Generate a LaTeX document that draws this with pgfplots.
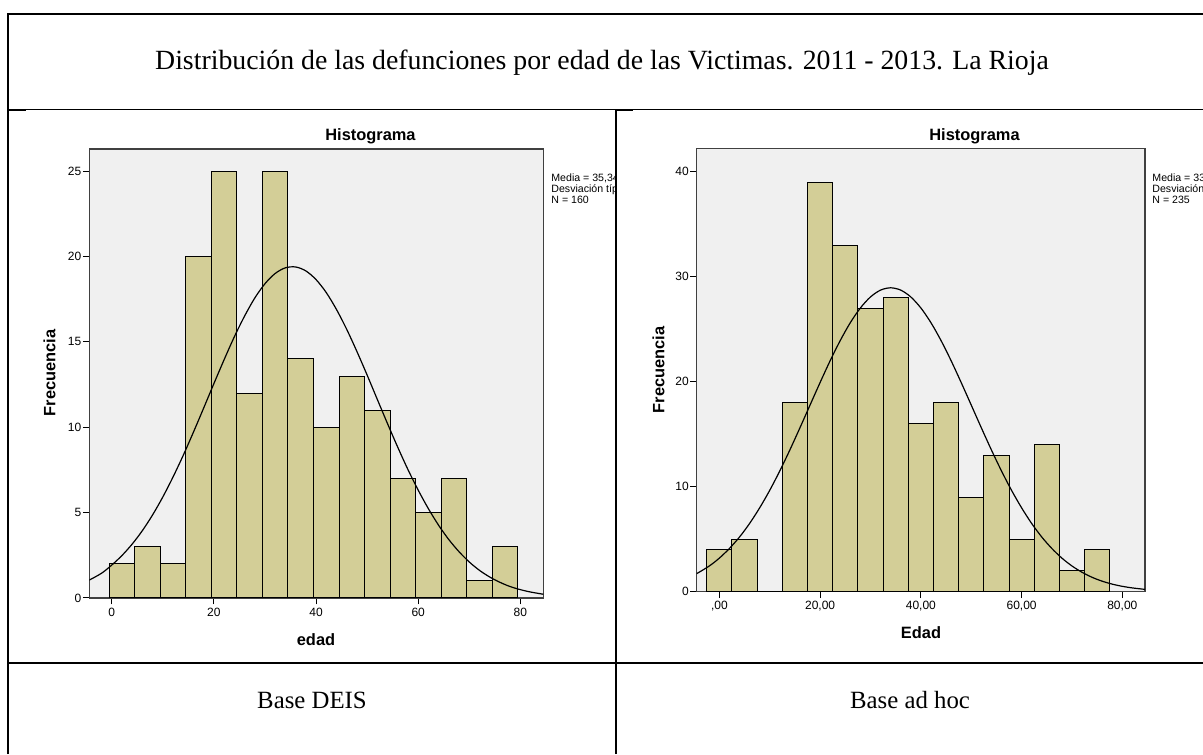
\documentclass[border=0pt]{standalone}
\usepackage{fontspec}
\setmainfont{Liberation Serif}
\setsansfont{Liberation Sans}
\usepackage{pgfplots}
\pgfplotsset{compat=1.18}

\definecolor{barfill}{HTML}{D3CE97}
\definecolor{plotbg}{HTML}{F0F0F0}

% SPSS-like histogram look
\pgfplotsset{
  spss/.style={
    scale only axis,
    axis background/.style={fill=plotbg},
    axis line style={draw=black!75, line width=0.6pt},
    tick align=outside,
    tick pos=left,
    major tick length=3.2pt,
    tick style={black, line width=0.5pt},
    /pgf/number format/assume math mode=true,
    ticklabel style={font=\sffamily\fontsize{6}{7}\selectfont},
    yticklabel style={inner sep=0.6pt},
    xticklabel style={inner sep=1.5pt},
    clip=true,
  },
  hbars/.style={ybar interval, fill=barfill, draw=black, line width=0.5pt},
  normcurve/.style={black, line width=0.6pt, smooth},
}

\newcommand{\lbl}{\sffamily\bfseries\fontsize{8.2}{9.5}\selectfont}
\newcommand{\info}{\sffamily\fontsize{5.3}{5.5}\selectfont}

\begin{document}
\begin{tikzpicture}[x=0.5pt, y=0.5pt]
\path[use as bounding box] (0,0) rectangle (1203,754);

% ---------------- left histogram: Base DEIS ----------------
\begin{axis}[spss,
  at={(44.65pt,78pt)}, anchor=south west,
  width=227pt, height=224.5pt,
  xmin=-4.4, xmax=84.5, ymin=0, ymax=26.3,
  xtick={0,20,40,60,80}, ytick={0,5,10,15,20,25},
]
\addplot[hbars] coordinates {
  (-0.5,2) (4.5,3) (9.5,2) (14.5,20) (19.5,25) (24.5,12) (29.5,25)
  (34.5,14) (39.5,10) (44.5,13) (49.5,11) (54.5,7) (59.5,5) (64.5,7)
  (69.5,1) (74.5,3) (79.5,3)};
% fitted normal curve (mean 35.3, sd 16.4, n = 160)
\addplot[normcurve] coordinates {
  (-4.4,1.05) (-2,1.45) (0,1.93) (2,2.49) (4,3.16) (6,3.95) (8,4.87)
  (10,5.92) (12,7.09) (14,8.36) (16,9.72) (18,11.13) (20,12.56)
  (22,13.96) (24,15.30) (26,16.51) (28,17.57) (30,18.41) (32,19.01)
  (34,19.34) (36,19.39) (38,19.16) (40,18.65) (42,17.89) (44,16.90)
  (46,15.74) (48,14.44) (50,13.06) (52,11.63) (54,10.21) (56,8.83)
  (58,7.52) (60,6.32) (62,5.23) (64,4.26) (66,3.42) (68,2.71)
  (70,2.11) (72,1.62) (74,1.23) (76,0.92) (78,0.67) (80,0.49)
  (82,0.35) (84.5,0.22)};
\end{axis}

% ---------------- right histogram: Base ad hoc ----------------
\begin{axis}[spss,
  at={(348.35pt,81.15pt)}, anchor=south west,
  width=224.15pt, height=221.5pt,
  xmin=-4.5, xmax=84.5, ymin=0, ymax=42.2,
  xtick={0,20,40,60,80},
  xticklabels={{,00},{20,00},{40,00},{60,00},{80,00}},
  ytick={0,10,20,30,40},
]
\addplot[hbars] coordinates {
  (-2.5,4) (2.5,5) (7.5,0) (12.5,18) (17.5,39) (22.5,33) (27.5,27)
  (32.5,28) (37.5,16) (42.5,18) (47.5,9) (52.5,13) (57.5,5) (62.5,14)
  (67.5,2) (72.5,4) (77.5,4)};
% fitted normal curve (mean 34.0, sd 16.2, n = 235)
\addplot[normcurve] coordinates {
  (-4.5,1.72) (-2,2.45) (0,3.20) (2,4.12) (4,5.21) (6,6.50) (8,7.99)
  (10,9.66) (12,11.51) (14,13.51) (16,15.62) (18,17.78) (20,19.93)
  (22,22.01) (24,23.93) (26,25.63) (28,27.03) (30,28.08) (32,28.73)
  (34,28.95) (36,28.73) (38,28.08) (40,27.03) (42,25.63) (44,23.93)
  (46,22.01) (48,19.93) (50,17.78) (52,15.62) (54,13.51) (56,11.51)
  (58,9.66) (60,7.99) (62,6.50) (64,5.21) (66,4.12) (68,3.20)
  (70,2.45) (72,1.85) (74,1.37) (76,1.00) (78,0.72) (80,0.51)
  (82,0.36) (84.5,0.22)};
\end{axis}

% chart titles and axis labels
\node[anchor=base, inner sep=0pt] at (370.5,613.3) {\lbl Histograma};
\node[anchor=base, inner sep=0pt] at (974.5,613.3) {\lbl Histograma};
\node[rotate=90, inner sep=0pt] at (49.5,381) {\lbl Frecuencia};
\node[rotate=90, inner sep=0pt] at (658.5,384) {\lbl Frecuencia};
\node[inner sep=0pt] at (316,114.5) {\lbl edad};
\node[inner sep=0pt] at (921,121.5) {\lbl Edad};

% summary boxes, cut by the cell border
\begin{scope}
  \clip (540,500) rectangle (614,600);
  \node[anchor=north west, inner sep=0pt, align=left, font=\info] at (551,580.7)
    {Media = 35,34\\ Desviación típica = 16,446\\ N = 160};
\end{scope}
\begin{scope}
  \clip (1140,500) rectangle (1203,600);
  \node[anchor=north west, inner sep=0pt, align=left, font=\info] at (1152,580.7)
    {Media = 33,99\\ Desviación típica = 16,213\\ N = 235};
\end{scope}

% table frame
\draw[line width=0.85pt] (7.7,0) -- (7.7,740) -- (1203,740);
\draw[line width=0.5pt] (7.7,644.7) -- (1203,644.7);
\draw[line width=0.85pt] (7.7,644.3) -- (26,644.3);
\draw[line width=0.85pt] (616,644.3) -- (633,644.3);
\draw[line width=0.85pt] (616,0) -- (616,644.7);
\draw[line width=0.85pt] (7.7,91.3) -- (1203,91.3);

% table texts
\node[font=\fontsize{13.9}{16}\selectfont] at (602,691)
  {Distribución de las defunciones por edad de las Victimas. 2011 - 2013. La Rioja};
\node[font=\fontsize{12.4}{14}\selectfont] at (312,54) {Base DEIS};
\node[font=\fontsize{12.4}{14}\selectfont] at (910,54) {Base ad hoc};
\end{tikzpicture}
\end{document}
